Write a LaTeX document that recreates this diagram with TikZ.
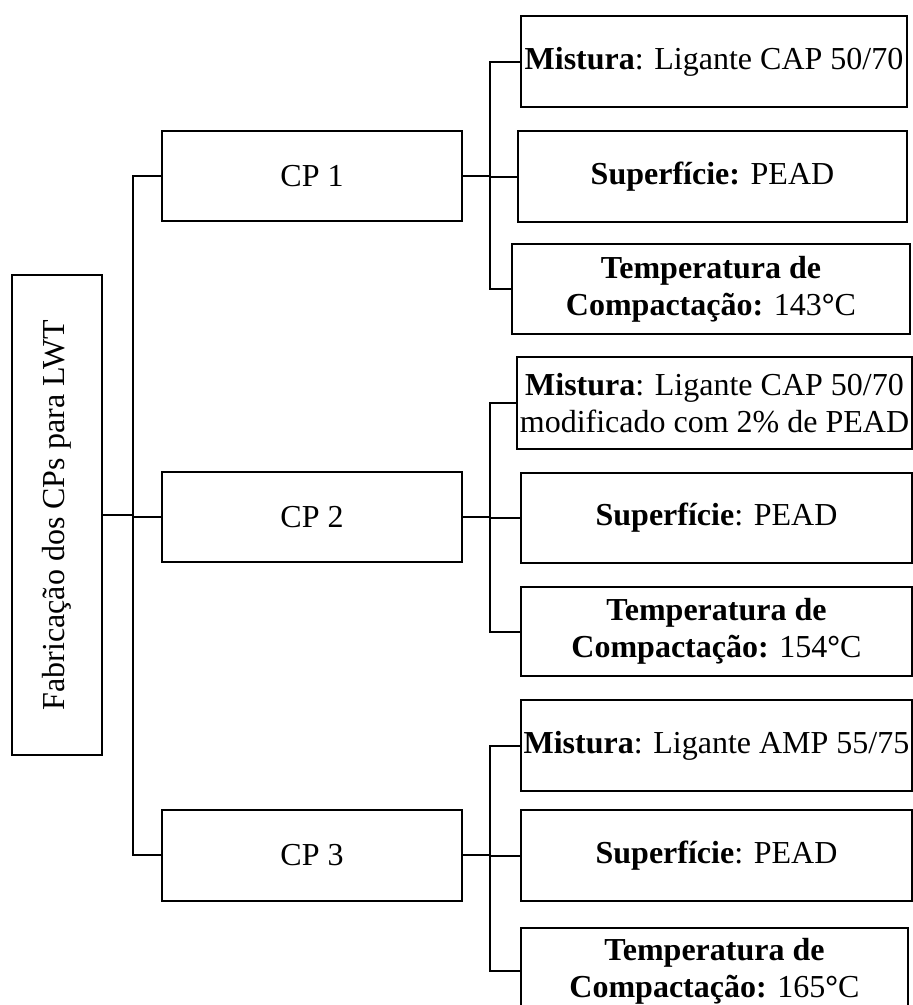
\documentclass[tikz,border=0pt]{standalone}
\usepackage{fontspec}
\setmainfont{Liberation Serif}
\begin{document}
\begin{tikzpicture}[x=1pt,y=-1pt,
  box/.style={draw, line width=2pt, inner sep=0pt, align=center,
    font=\fontsize{32}{37}\selectfont},
  link/.style={line width=2pt}]
\clip (0,0) rectangle (913,1005);
\useasboundingbox (0,0) rectangle (913,1005);

% root
\node[box, minimum width=90, minimum height=480] (root) at (57,515) {};
\node[rotate=90, font=\fontsize{32}{37}\selectfont] (roott) at (root.center) {Fabricação dos CPs para LWT};

% second level
\node[box, minimum width=300, minimum height=90] (cp1) at (312,176) {CP 1};
\node[box, minimum width=300, minimum height=90] (cp2) at (312,517) {CP 2};
\node[box, minimum width=300, minimum height=91] (cp3) at (312,855) {CP 3};

% CP 1 leaves
\node[box, minimum width=386, minimum height=91] (m1) at (714,61.5) {\textbf{Mistura}: Ligante CAP 50/70};
\node[box, minimum width=389, minimum height=91] (s1) at (712.5,176.5) {\textbf{Superfície:} PEAD};
\node[box, minimum width=398, minimum height=90] (t1) at (711,289) {\textbf{Temperatura de}\\\textbf{Compactação:} 143\textbf{°}C};

% CP 2 leaves
\node[box, minimum width=395, minimum height=92] (m2) at (714.5,403) {\textbf{Mistura}: Ligante CAP 50/70\\modificado com 2\% de PEAD};
\node[box, minimum width=391, minimum height=90] (s2) at (716.5,518) {\textbf{Superfície}: PEAD};
\node[box, minimum width=391, minimum height=89] (t2) at (716.5,631.5) {\textbf{Temperatura de}\\\textbf{Compactação:} 154\textbf{°}C};

% CP 3 leaves
\node[box, minimum width=391, minimum height=91] (m3) at (716.5,745.5) {\textbf{Mistura}: Ligante AMP 55/75};
\node[box, minimum width=391, minimum height=91] (s3) at (716.5,855.5) {\textbf{Superfície}: PEAD};
\node[box, minimum width=387, minimum height=86] (t3) at (714.5,971) {\textbf{Temperatura de}\\\textbf{Compactação:} 165\textbf{°}C};

% trunk from the root to the CPs
\coordinate (tk) at (133,0);
\draw[link] (root.east) -- (root.east -| tk);
\draw[link] (cp1.west) -| (tk |- cp3.west) -- (cp3.west);
\draw[link] (tk |- cp2.west) -- (cp2.west);

% branches from each CP to its leaves
\coordinate (bx) at (490,0);
\foreach \c/\m/\s/\t in {cp1/m1/s1/t1, cp2/m2/s2/t2, cp3/m3/s3/t3}{
  \draw[link] (\c.east) -- (\c.east -| bx);
  \draw[link] (\m.west) -| (bx |- \t.west) -- (\t.west);
  \draw[link] (bx |- \s.west) -- (\s.west);
}
\end{tikzpicture}
\end{document}
